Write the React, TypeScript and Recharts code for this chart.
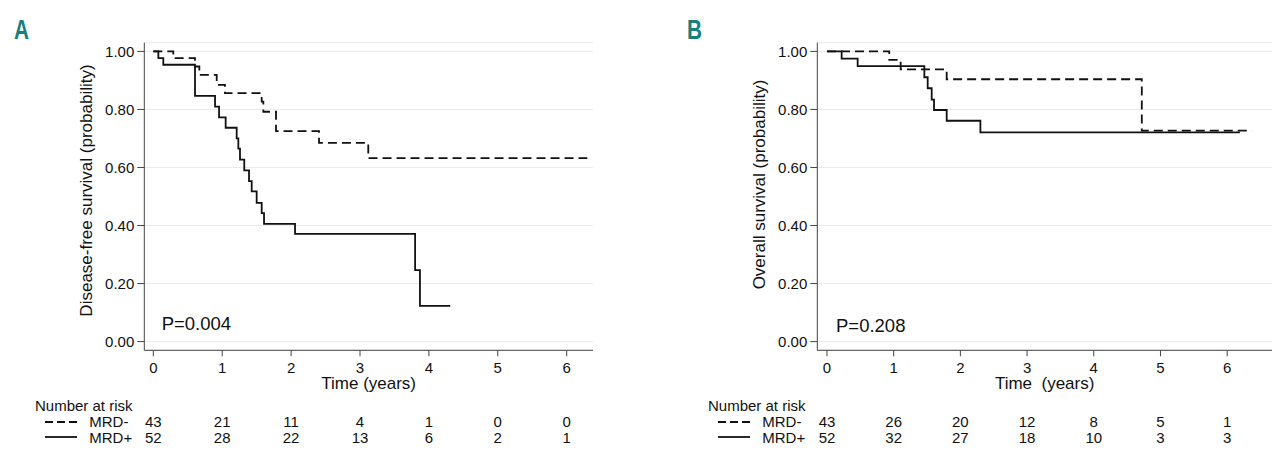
import { LineChart, Line, XAxis, YAxis, CartesianGrid } from "recharts";

const FONT = "'Liberation Sans', Arial, sans-serif";
const INK = "#111";

const timeTicks = [0, 1, 2, 3, 4, 5, 6];
const survTicks = [0, 0.2, 0.4, 0.6, 0.8, 1];

// A: disease-free survival
const dfsNegTime = [0, 0.29, 0.605, 0.668, 0.92, 1.04, 1.573, 1.597, 1.781, 2.405, 3.12, 6.3];
const dfsNegSurv = [1, 0.977, 0.948, 0.919, 0.885, 0.856, 0.827, 0.792, 0.725, 0.685, 0.632, 0.632];
const dfsPosTime = [0, 0.073, 0.145, 0.605, 0.896, 0.954, 1.05, 1.21, 1.234, 1.258, 1.32, 1.389, 1.428, 1.5, 1.573, 1.607, 2.057, 3.8, 3.87, 4.31];
const dfsPosSurv = [1, 0.977, 0.954, 0.847, 0.81, 0.773, 0.737, 0.7, 0.665, 0.627, 0.59, 0.553, 0.518, 0.478, 0.443, 0.406, 0.371, 0.246, 0.123, 0.123];
const dfsRiskNeg = [43, 21, 11, 4, 1, 0, 0];
const dfsRiskPos = [52, 28, 22, 13, 6, 2, 1];

// B: overall survival
const osNegTime = [0, 0.934, 1.105, 1.795, 4.72, 6.37];
const osNegSurv = [1, 0.971, 0.938, 0.904, 0.727, 0.727];
const osPosTime = [0, 0.22, 0.46, 1.46, 1.51, 1.57, 1.605, 1.795, 2.3, 6.19];
const osPosSurv = [1, 0.975, 0.949, 0.911, 0.873, 0.834, 0.798, 0.761, 0.721, 0.721];
const osRiskNeg = [43, 26, 20, 12, 8, 5, 1];
const osRiskPos = [52, 32, 27, 18, 10, 3, 3];

const toSteps = (times: number[], surv: number[]) => times.map((t, i) => ({ t, s: surv[i] }));

const tickStyle = { fill: INK, fontSize: 15, fontFamily: FONT };

function YTitle({ viewBox, text, shift }: any) {
  const cx = viewBox.x + viewBox.width / 2;
  const cy = viewBox.y + viewBox.height / 2 + shift;
  return (
    <text
      x={cx}
      y={cy}
      transform={`rotate(-90, ${cx}, ${cy})`}
      textAnchor="middle"
      dominantBaseline="central"
      fill={INK}
      fontSize={17}
      fontFamily={FONT}
    >
      {text}
    </text>
  );
}

// time tick plus the two "number at risk" rows under it
function TimeTick({ x, y, payload, riskNeg, riskPos }: any) {
  const i = timeTicks.indexOf(payload.value);
  return (
    <g fontFamily={FONT} fontSize={15} fill={INK} textAnchor="middle">
      <text x={x} y={y + 11}>{payload.value}</text>
      <text x={x} y={y + 65}>{riskNeg[i]}</text>
      <text x={x} y={y + 81}>{riskPos[i]}</text>
    </g>
  );
}

interface PanelProps {
  width: number;
  rightMargin: number;
  xDomain: [number, number];
  neg: { t: number; s: number }[];
  pos: { t: number; s: number }[];
  riskNeg: number[];
  riskPos: number[];
  yTitle: string;
  yShift: number;
  xTitle: string;
}

function KmPanel({ width, rightMargin, xDomain, neg, pos, riskNeg, riskPos, yTitle, yShift, xTitle }: PanelProps) {
  return (
    <LineChart
      width={width}
      height={462}
      margin={{ top: 42.7, right: rightMargin, bottom: 0, left: 27.7 }}
    >
      <CartesianGrid vertical={false} stroke="#ebebeb" />
      <XAxis
        type="number"
        dataKey="t"
        domain={xDomain}
        ticks={timeTicks}
        interval={0}
        allowDataOverflow
        height={111.7}
        tickSize={6}
        tickMargin={6}
        stroke="#444"
        tick={<TimeTick riskNeg={riskNeg} riskPos={riskPos} />}
        label={{ value: xTitle, position: "insideBottom", offset: 73, fill: INK, fontSize: 17, fontFamily: FONT }}
      />
      <YAxis
        type="number"
        domain={[-0.03, 1.03]}
        ticks={survTicks}
        interval={0}
        allowDataOverflow
        width={116.6}
        tickSize={7}
        tickMargin={3}
        stroke="#444"
        tick={tickStyle}
        tickFormatter={(v: number) => v.toFixed(2)}
        label={{ content: (p: any) => <YTitle viewBox={p.viewBox} text={yTitle} shift={yShift} /> }}
      />
      <Line
        data={neg}
        dataKey="s"
        type="stepAfter"
        stroke={INK}
        strokeWidth={1.8}
        strokeDasharray="9 5"
        dot={false}
        isAnimationActive={false}
      />
      <Line
        data={pos}
        dataKey="s"
        type="stepAfter"
        stroke={INK}
        strokeWidth={1.8}
        dot={false}
        isAnimationActive={false}
      />
    </LineChart>
  );
}

function Annotations({ dx, letter, pText, pX, pY }: { dx: number; letter: string; pText: string; pX: number; pY: number }) {
  return (
    <g fontFamily={FONT} fill={INK}>
      <text
        x={14 + dx}
        y={38.5}
        fill="#17807d"
        fontSize={28}
        fontWeight="bold"
        textLength={15}
        lengthAdjust="spacingAndGlyphs"
      >
        {letter}
      </text>
      <text x={pX} y={pY} fontSize={18.5}>{pText}</text>
      <text x={35 + dx} y={410.5} fontSize={15}>Number at risk</text>
      <line x1={45 + dx} x2={77 + dx} y1={422} y2={422} stroke={INK} strokeWidth={1.8} strokeDasharray="8 4" />
      <line x1={45 + dx} x2={77 + dx} y1={437} y2={437} stroke={INK} strokeWidth={1.8} />
      <text x={89.3 + dx} y={427.3} fontSize={15}>MRD-</text>
      <text x={89.3 + dx} y={443.3} fontSize={15}>MRD+</text>
    </g>
  );
}

export default function App() {
  return (
    <div
      style={{
        position: "absolute",
        left: 0,
        top: 0,
        width: 1280,
        height: 462,
        overflow: "hidden",
        background: "#fff",
      }}
    >
      <div style={{ position: "absolute", left: 0, top: 0 }}>
        <KmPanel
          width={640}
          rightMargin={47}
          xDomain={[-0.131, 6.382]}
          neg={toSteps(dfsNegTime, dfsNegSurv)}
          pos={toSteps(dfsPosTime, dfsPosSurv)}
          riskNeg={dfsRiskNeg}
          riskPos={dfsRiskPos}
          yTitle="Disease-free survival (probability)"
          yShift={-6}
          xTitle="Time (years)"
        />
      </div>
      <div style={{ position: "absolute", left: 673, top: 0 }}>
        <KmPanel
          width={607}
          rightMargin={8}
          xDomain={[-0.145, 6.672]}
          neg={toSteps(osNegTime, osNegSurv)}
          pos={toSteps(osPosTime, osPosSurv)}
          riskNeg={osRiskNeg}
          riskPos={osRiskPos}
          yTitle="Overall survival (probability)"
          yShift={-12}
          xTitle={"Time\u00a0 (years)"}
        />
      </div>
      <svg
        width={1280}
        height={462}
        style={{ position: "absolute", left: 0, top: 0, pointerEvents: "none" }}
      >
        <Annotations dx={0} letter="A" pText="P=0.004" pX={161.7} pY={330} />
        <Annotations dx={673} letter="B" pText="P=0.208" pX={836} pY={331.7} />
      </svg>
    </div>
  );
}
